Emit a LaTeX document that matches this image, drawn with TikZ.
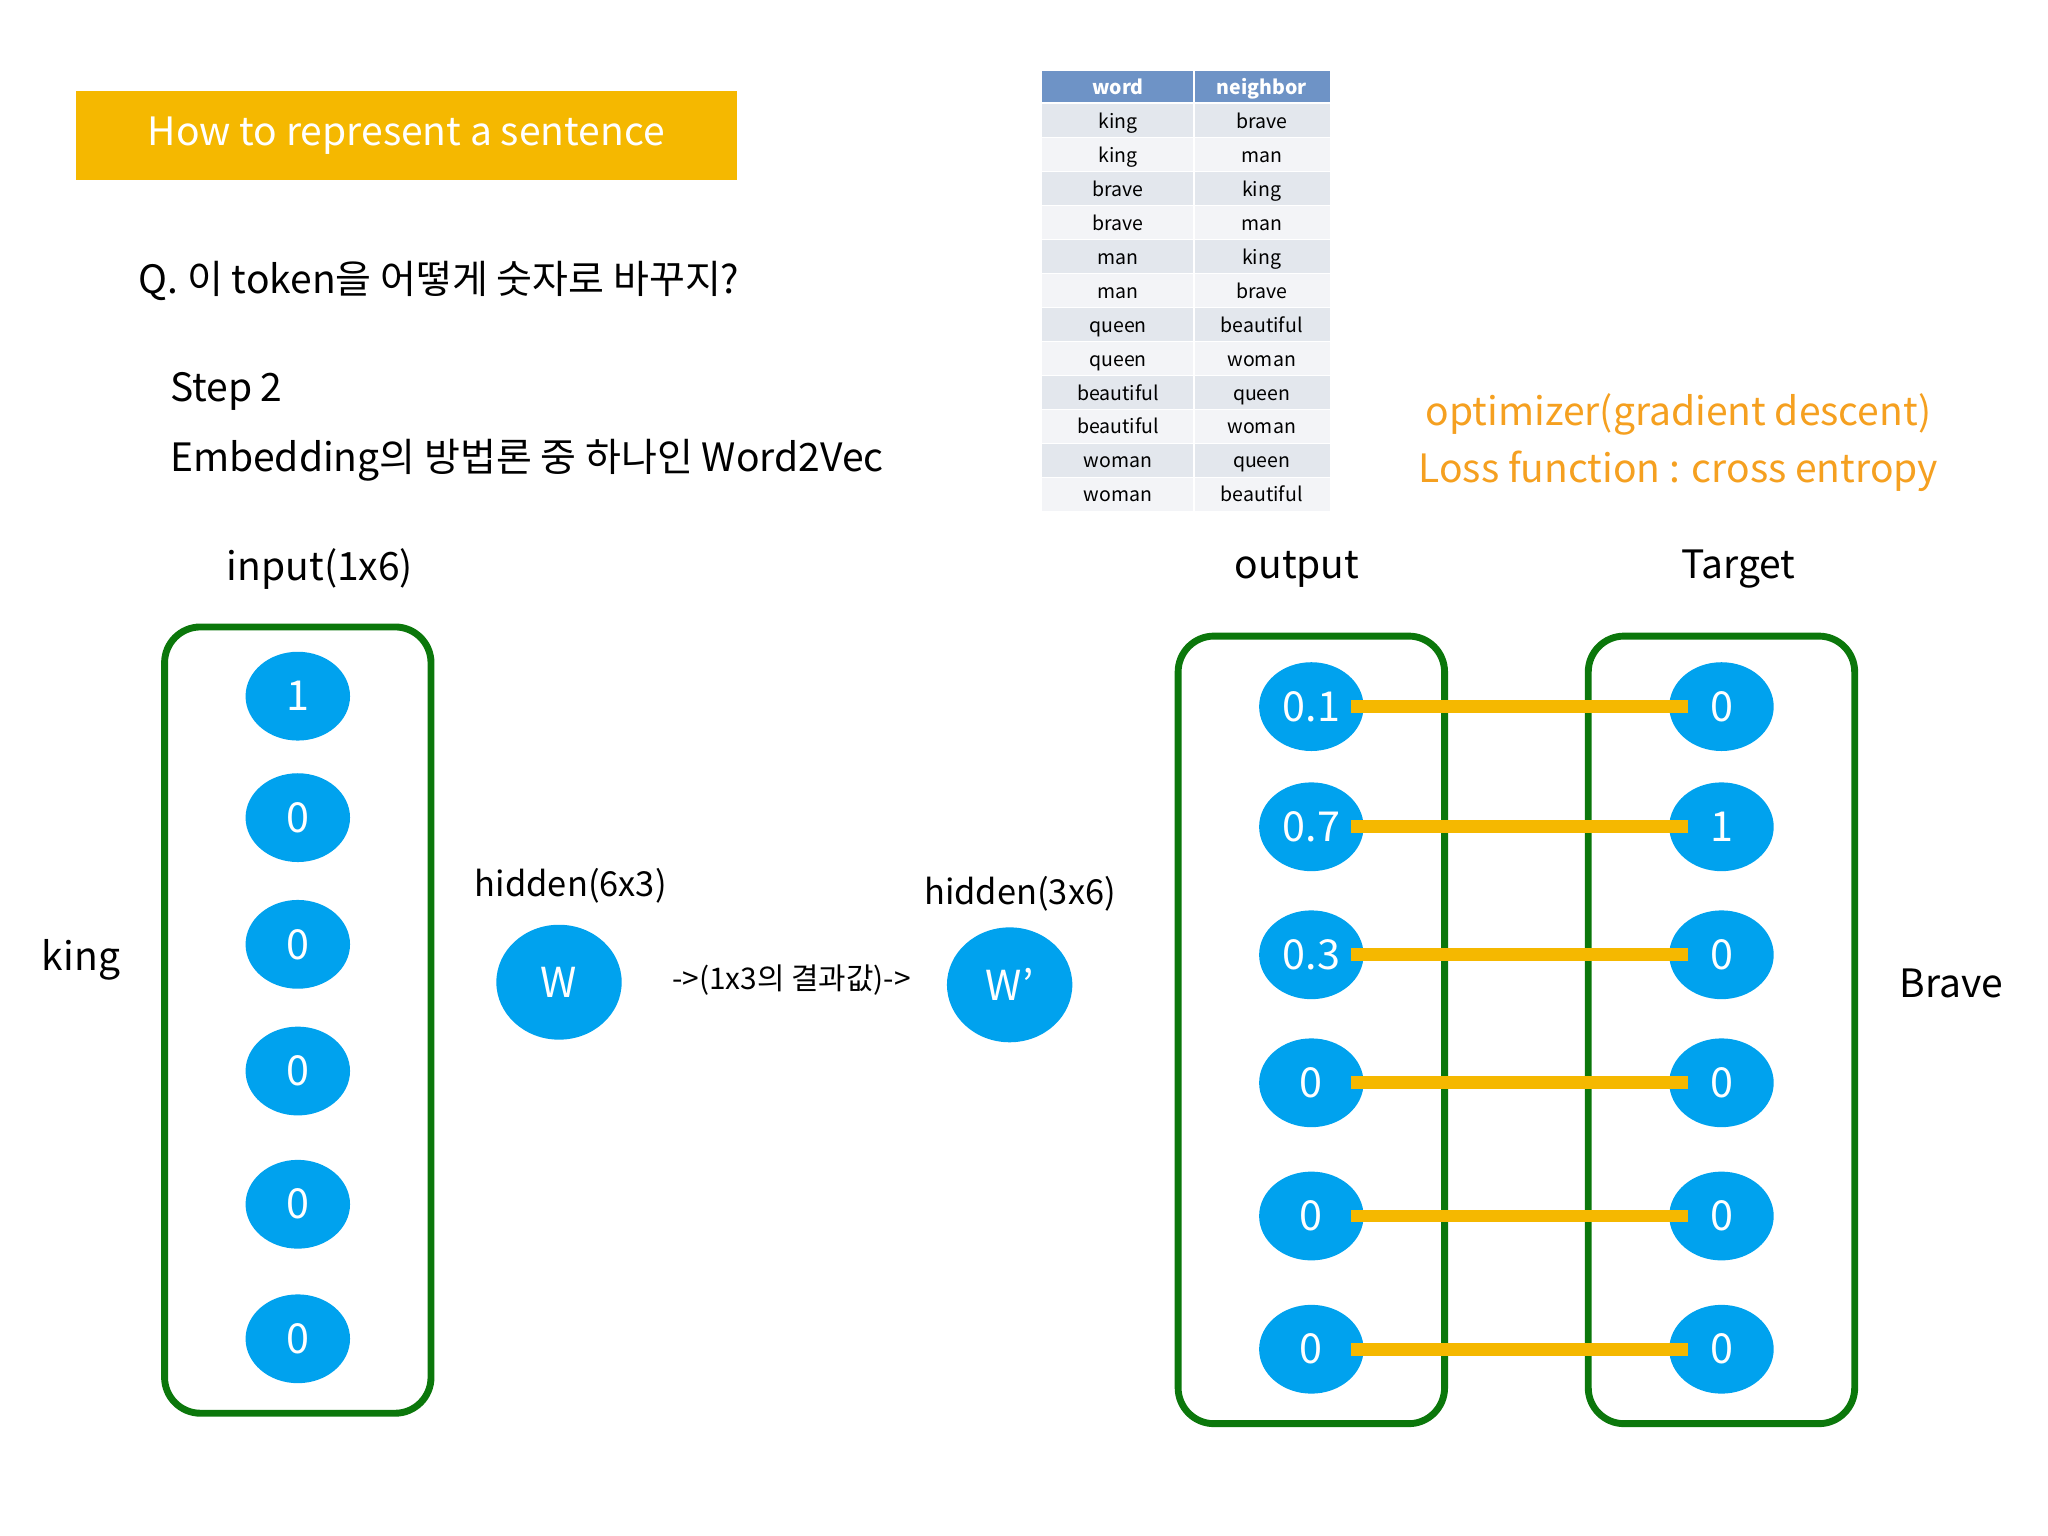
\documentclass[tikz,border=0pt]{standalone}
\usepackage{fontspec}
\setmainfont{Noto Sans CJK KR}
\usetikzlibrary{shapes.geometric}
\definecolor{ybar}{HTML}{F5B800}
\definecolor{gbox}{HTML}{0B770B}
\definecolor{bcirc}{HTML}{00A2EE}
\definecolor{orng}{HTML}{F5A020}
\definecolor{thead}{HTML}{6E93C6}
\definecolor{rowa}{HTML}{E3E7ED}
\definecolor{rowb}{HTML}{F3F4F7}
\begin{document}
\begin{tikzpicture}[x=0.02cm,y=-0.02cm,
  lbl/.style={font=\fontsize{17}{20}\selectfont,anchor=center},
  box/.style={draw=gbox,line width=3pt,rounded corners=0.55cm},
  circ/.style={ellipse,fill=bcirc,minimum width=1.6cm,minimum height=1.36cm,inner sep=0pt,text=white,font=\fontsize{18}{20}\selectfont},
  link/.style={draw=ybar,line width=5.5pt},
  cell/.style={font=\fontsize{8.5}{10}\selectfont,anchor=center,text depth=0pt,text height=6pt},
  orl/.style={text=orng,font=\fontsize{17}{20}\selectfont,anchor=center}]
\useasboundingbox (0,0) rectangle (1568,1176);
% title bar
\node[fill=ybar,minimum width=10.12cm,minimum height=1.36cm,inner sep=0pt,text=white,font=\fontsize{17}{20}\selectfont] (title) at (311,104) {How to represent a sentence};
\node[lbl,anchor=west] (q) at (100,215) {Q. 이 token을 어떻게 숫자로 바꾸지?};
\node[lbl,anchor=west] (s2) at (124,300) {Step 2};
\node[lbl,anchor=west] (emb) at (124,352) {Embedding의 방법론 중 하나인 Word2Vec};
% table
\fill[thead] (798,54) rectangle (1018,78);
\draw[white,line width=1pt] (914,54) -- (914,78);
\node[cell,text=white,font=\bfseries\fontsize{8.5}{10}\selectfont] (h1) at (856,67) {word};
\node[cell,text=white,font=\bfseries\fontsize{8.5}{10}\selectfont] (h2) at (966,67) {neighbor};
\foreach \w/\n [count=\i from 0] in {king/brave,king/man,brave/king,brave/man,man/king,man/brave,queen/beautiful,queen/woman,beautiful/queen,beautiful/woman,woman/queen,woman/beautiful}{
  \pgfmathsetmacro{\yt}{80+26*\i}
  \pgfmathtruncatemacro{\rpar}{mod(\i,2)}
  \ifnum\rpar=0 \def\rc{rowa}\else\def\rc{rowb}\fi
  \fill[\rc] (798,\yt) rectangle (1018,\yt+25);
  \draw[white,line width=1pt] (914,\yt) -- (914,\yt+25);
  \node[cell] (w\i) at (856,\yt+13) {\w};
  \node[cell] (n\i) at (966,\yt+13) {\n};
}
\node[orl] (opt) at (1285,317) {optimizer(gradient descent)};
\node[orl] (loss) at (1285,361) {Loss function : cross entropy};
% headings
\node[lbl] (inp) at (245,436) {input(1x6)};
\node[lbl] (outl) at (993,436) {output};
\node[lbl] (tgl) at (1331,436) {Target};
\node[lbl] (king) at (62,735) {king};
\node[lbl] (brave) at (1494,753) {Brave};
% boxes
\draw[box] (126,480) rectangle (330,1082);
\draw[box] (902,487) rectangle (1106,1090);
\draw[box] (1216,487) rectangle (1420,1090);
% input circles
\foreach \v/\y [count=\i] in {1/533,0/626,0/723,0/820,0/922,0/1025}
  \node[circ] (in\i) at (228,\y) {\v};
% hidden
\node[lbl,font=\fontsize{15}{18}\selectfont] (h63) at (437,678) {hidden(6x3)};
\node[circ,minimum width=1.92cm,minimum height=1.76cm] (W) at (428,752) {W};
\node[lbl,font=\fontsize{13}{16}\selectfont] (mid) at (606,750) {->(1x3의 결과값)->};
\node[lbl,font=\fontsize{15}{18}\selectfont] (h36) at (781,684) {hidden(3x6)};
\node[circ,minimum width=1.92cm,minimum height=1.76cm] (Wp) at (773,754) {W’};
% output / target
\foreach \o/\t/\y [count=\i] in {0.1/0/541,0.7/1/633,0.3/0/731,0/0/829,0/0/931,0/0/1033}{
  \node[circ] (o\i) at (1004,\y) {\o};
  \node[circ] (t\i) at (1318,\y) {\t};
}
\foreach \i in {1,...,6}
  \draw[link] ([xshift=-0.2cm]o\i.east) -- ([xshift=0.3cm]t\i.west);
\end{tikzpicture}
\end{document}
